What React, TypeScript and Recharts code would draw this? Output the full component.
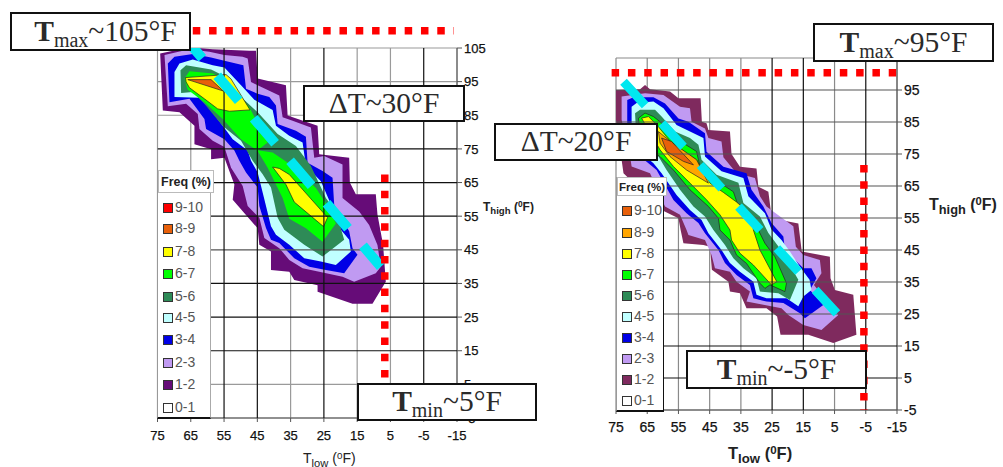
import { ScatterChart, Scatter, XAxis, YAxis, CartesianGrid, ReferenceLine, Polygon } from 'recharts';

type Pt = [number, number];

// outlines as [Tlow, Thigh] in deg F
const leftBand12: Pt[] = [[74.2,103.4],[65.4,105.2],[58.4,104.6],[47.4,104.2],[45.4,104.2],[44.9,95.9],[36.4,93.9],[35.9,84.9],[26.9,81.9],[26.4,73.4],[17.4,72.4],[17.2,65],[15.4,61.5],[9.4,61.5],[8.9,55.5],[7.2,46.4],[6.4,35.5],[10.4,29],[16.4,29],[26.9,32.5],[26.9,34.5],[33.9,36],[35.4,38.5],[40.9,39],[40.9,44.5],[44.4,46.5],[44.9,51.4],[52.4,59.9],[51.9,64.4],[54.9,72.4],[58.9,71.9],[58.9,74.9],[63.9,76.4],[63.9,81.9],[68.4,85.9],[73.4,86.4]];
const leftBand23: Pt[] = [[72.9,102.9],[65.4,104.6],[59.4,103.9],[54.9,102.9],[49.4,102.4],[47.9,101.9],[46.9,94.9],[44.9,93.9],[38.4,90.9],[37.4,84.4],[34.4,83.4],[28.9,81.4],[27.9,72.4],[24.9,72.9],[19.4,70.4],[19.4,60.4],[14.4,56.4],[11.4,52.4],[8.9,46.4],[7.9,40],[9.4,38],[15.9,35.5],[19.4,37],[26.4,38.5],[31.4,39.5],[35.4,42],[38.4,45.5],[42.9,48.5],[44.4,54.5],[47.9,58],[49.4,64],[52.9,69.4],[54.9,75.6],[58.4,77.4],[62.4,80.9],[62.9,85.4],[66.4,88.4],[71.9,87.7]];
const leftBand34: Pt[] = [[71.9,100.4],[69.9,102.4],[64.4,103.2],[58.9,102.2],[54.9,101.2],[49.2,99.9],[48.4,92.9],[44.9,91.4],[41.4,90.4],[39.4,87.9],[38.9,82.4],[33.4,80.4],[30.4,78.6],[29.9,70.9],[25.4,68.4],[22.4,66.4],[21.9,58.4],[17.4,50.5],[16.4,45.5],[14.9,43.5],[18.9,38],[24.4,39],[29.4,40],[33.9,42.5],[38.4,47],[40.9,48],[42.4,51.5],[44.4,58],[44.9,63.5],[48.4,68],[50.4,71.5],[51.9,74.5],[54.9,77.9],[60.4,80.9],[60.9,83.9],[65.4,89.9],[71.4,88.9]];
const leftBand45: Pt[] = [[69.9,97.9],[68.4,100.4],[64.4,101.6],[58.4,99.9],[54.9,99.2],[49.9,93.9],[45.9,89.6],[40.4,86.6],[39.4,81.9],[35.4,78.9],[31.4,76.9],[30.4,69.9],[25.9,65.4],[22.4,57.4],[19.9,51],[17.4,48],[16.9,44.5],[21.4,40.5],[25.9,41.5],[30.9,42.5],[35.4,46.5],[39.4,49.5],[40.9,52],[42.9,60],[44.9,68],[46.9,71.5],[47.9,74.5],[52.4,77.9],[55.4,81.9],[58.9,86.4],[62.4,90.2],[69.9,90.4]];
const leftBand56: Pt[] = [[68.1,98.4],[66.4,99.9],[58.9,98.6],[55.4,96.9],[50.4,90.9],[44.9,85.9],[38.9,79.4],[33.4,75.9],[28.9,69.9],[24.4,60.4],[21.4,56.4],[18.9,48],[25.4,43],[30.9,46.5],[36.9,51],[38.9,54.5],[40.9,63.5],[43.4,67.5],[46.4,71.5],[49.9,77.4],[55.4,81.8],[60.9,88.4],[64.4,91.9],[67.9,91.6]];
const leftBand67: Pt[] = [[66.9,95.9],[65.4,98.1],[58.4,97.4],[54.4,95.4],[47.4,87.4],[41.9,76.9],[44.9,74.6],[40.4,73.9],[34.4,69.9],[27.4,63.4],[23.4,57.3],[21.4,52.8],[25.4,47.4],[30.4,51.4],[35.4,54.2],[37.4,60.4],[39.4,64.4],[41.9,69.4],[44.9,74.4],[49.9,77.9],[55.4,83.9],[60.9,88.9],[65.9,92.6]];
const leftBand78Upper: Pt[] = [[66.6,96.2],[54.4,97.1],[52.9,95.8],[47.2,86.6],[53.4,86.2],[56.9,86.9],[60.9,89.9],[65.4,93.2],[66.4,94.9]];
const leftBand78Lower: Pt[] = [[40.4,69.6],[38.4,69.2],[35.4,67.4],[23.9,54.6],[25.1,51.9],[33.9,59.2],[36.4,64.4]];
const leftBand89: Pt[] = [[65.9,95.6],[58.9,95.6],[55.2,92.2]];

const rightBand12: Pt[] = [[75,95],[67.3,95.2],[65.7,96.6],[64.1,95.2],[57.7,94.5],[55,92.4],[47.9,92.4],[47.5,85.1],[46,84.6],[45.4,82.5],[38.5,82],[38,75],[35.3,71],[30,70.5],[29.4,64.8],[26.2,63.2],[25.1,54.9],[16.6,53.3],[15.5,44.5],[6.5,42.9],[6.3,36.2],[4.9,32.5],[-1,31],[-2,18.5],[5.4,15.9],[13.4,18.5],[22.3,18.5],[23.4,24.2],[26.8,26.8],[33.2,26.8],[35.3,31.5],[38.5,32],[39,35.1],[44.3,38.8],[44.9,46],[47,46.6],[53.4,47.1],[54.3,51.25],[55,54.9],[60.4,57.5],[72.6,69],[73.2,73.1],[75,85.6]];
const rightBand23: Pt[] = [[73.2,93],[65.7,94],[59.8,93.4],[54.5,89.8],[51.3,89.3],[50.8,85.1],[46.5,83],[45.4,80],[41.2,78.9],[40.6,74],[36.4,69],[30.5,67.5],[28.9,61.8],[26.8,58.6],[18.2,52.4],[17.4,46],[15,43.4],[9.7,41.9],[9.2,37.7],[11.6,34.1],[8.6,30.4],[3.8,24.7],[9.2,20],[15,21.6],[19.8,24.7],[22,26.8],[27.8,27.9],[33.2,28.9],[32.1,32],[36.4,35.1],[38.5,38.2],[43.3,39.3],[44.4,43.4],[46.5,48.1],[51.8,49.7],[52.4,51.25],[54.5,56],[59.3,58.6],[64.1,69],[70,71.1],[70.5,74.3],[73.2,85.7]];
const rightBand34: Pt[] = [[71.4,91.9],[69.4,92.7],[63,92.7],[59.3,90.8],[55,86.1],[51.8,85.1],[46.5,81.5],[46,75.7],[40.6,71],[33.2,69],[31.6,63.8],[27.8,58.6],[25.2,53.4],[21.4,49.2],[20.9,45],[15,39.3],[12.4,39.3],[10.8,36.2],[12.9,32.5],[8.6,27.8],[14.5,23.7],[16.1,25.2],[21.4,28.4],[26.8,28.9],[31,29.9],[32.1,34.1],[36.4,37.2],[40.1,40.9],[42.2,45],[46.5,50.2],[48.6,53.4],[52.4,56.5],[56.6,60.6],[62,70],[65.2,72.6],[71.4,77.3]];
const rightBand45: Pt[] = [[70,89.8],[68.4,90.9],[63,91.4],[59.8,89.3],[55.6,84.1],[51.3,82],[47,80],[46.5,74.2],[41.2,69.6],[34.2,67.5],[32.6,61.8],[27.3,56.5],[25.2,51.4],[22,48.1],[19.3,44.5],[16.1,39.8],[13,35.7],[12.4,32.5],[15,30.5],[16.6,27.4],[20.4,29.9],[26.8,29.9],[30,31],[31,35.1],[35.3,38.2],[38.5,40.9],[41.2,45],[45.4,50.2],[47.6,54.4],[51.3,57.5],[55.6,62.2],[60.4,69],[63,72.1],[70,78]];
const rightBand56: Pt[] = [[68.9,87.7],[67.3,88.8],[62.5,88.8],[60.4,86.7],[56.1,82],[51.3,80],[48.6,77.9],[47.6,73.2],[42.8,68.5],[35.8,66],[34.2,59.7],[28.9,55.5],[26.2,50.3],[22.5,45.5],[16.6,35.7],[19.3,29.4],[23,31.5],[28.9,32],[30,36.2],[34.2,39.3],[37.4,42.4],[40.1,46.6],[43.8,51.25],[46.5,55.5],[50.2,58.6],[54.5,63.8],[58.8,70],[61.4,74.2],[68.4,78.4]];
const rightBand67: Pt[] = [[67.8,86.2],[65.7,87.8],[63,86.7],[60.9,85.1],[56.1,80],[49.2,75.8],[48.1,71],[43.3,67],[37.4,63.2],[35.8,58.6],[30.5,53.4],[27.3,47.1],[24.1,42.9],[20.4,34.6],[20.9,32],[25.7,34.1],[27.3,33],[28.9,34.6],[33.2,40.8],[36.4,43.4],[38.5,48.1],[41.7,51.25],[42.2,54.9],[45.4,58.6],[51.3,63.8],[56.6,70],[60.9,74.2],[67,78]];
const rightBand78: Pt[] = [[66.8,86.2],[64.6,86.7],[61.4,83.5],[57.2,78.4],[49.2,73.2],[44.9,65.9],[40.6,63],[36.4,60],[31.6,55.9],[31,51.25],[28.9,45],[23.5,35.1],[25.2,34.1],[31,40.3],[35.3,44],[38,48.1],[38.5,51.25],[41.7,56],[46,60.7],[51.3,65.9],[56.6,71.1],[60.9,76.3]];
const rightBand89: Pt[] = [[61.4,82],[58.2,79.4],[49.2,73.2],[45.4,65.9],[52.4,70],[57.7,74.2],[60.9,78.4]];
const rightBand910: Pt[] = [[60.4,80],[57.2,78.9],[50.2,71.6],[53.4,72.7],[58.8,75.8]];

const xTicks = [75, 65, 55, 45, 35, 25, 15, 5, -5, -15];
const leftYTicks = [105, 95, 85, 75, 65, 55, 45, 35, 25, 15, 5, -5];
const rightYTicks = [95, 85, 75, 65, 55, 45, 35, 25, 15, 5, -5];
const freqLabels = ['9-10', '8-9', '7-8', '6-7', '5-6', '4-5', '3-4', '2-3', '1-2', '0-1'];
const leftFreqColors = ['#ff0000', '#e8600a', '#ffff00', '#00ff00', '#2e8b57', '#c0ffff', '#0000e6', '#c09af2', '#660c78', '#ffffff'];
const rightFreqColors = ['#e8600a', '#ffa500', '#ffff00', '#00ff00', '#2e8b57', '#c0ffff', '#0000e6', '#c09af2', '#7f2a5e', '#ffffff'];

const leftBands = [
  { pts: leftBand12, fill: '#660c78' },
  { pts: leftBand23, fill: '#c09af2' },
  { pts: leftBand34, fill: '#0000e6' },
  { pts: leftBand45, fill: '#c0ffff' },
  { pts: leftBand56, fill: '#2e8b57' },
  { pts: leftBand67, fill: '#00ff00' },
  { pts: leftBand78Upper, fill: '#ffff00', edge: true },
  { pts: leftBand78Lower, fill: '#ffff00', edge: true },
  { pts: leftBand89, fill: '#e8600a', edge: true },
];
const rightBands = [
  { pts: rightBand12, fill: '#7f2a5e' },
  { pts: rightBand23, fill: '#c09af2' },
  { pts: rightBand34, fill: '#0000e6' },
  { pts: rightBand45, fill: '#c0ffff' },
  { pts: rightBand56, fill: '#2e8b57' },
  { pts: rightBand67, fill: '#00ff00', edge: true },
  { pts: rightBand78, fill: '#ffff00', edge: true },
  { pts: rightBand89, fill: '#ffa500', edge: true },
  { pts: rightBand910, fill: '#e8600a', edge: true },
];

const SANS = '"Liberation Sans", Arial, sans-serif';
const SERIF = '"Liberation Serif", "Times New Roman", serif';

const noDot = () => <g />;

function toRows(a: Pt, b: Pt) {
  return [{ x: a[0], y: a[1] }, { x: b[0], y: b[1] }];
}

function Panel({ plot, bands, yTicks, greyX, blackX, greyY, midY, blackY, cyan, cyanDash, cyanWidth, redH, redV, tickSize }: any) {
  const width = plot.right + 60;
  const height = 467;
  return (
    <div style={{ position: 'absolute', left: 0, top: 0 }}>
      <ScatterChart
        width={width}
        height={height}
        margin={{ left: plot.left, top: plot.top, right: 10, bottom: height - plot.bottom - 30 }}
      >
        <CartesianGrid
          stroke={plot.gridColor}
          strokeWidth={1.2}
          verticalValues={greyX}
          horizontalValues={greyY}
          syncWithTicks={false}
        />
        <XAxis
          type="number"
          dataKey="x"
          reversed
          domain={[-15, 75]}
          ticks={xTicks}
          interval={0}
          allowDataOverflow
          height={30}
          tickSize={4}
          tickMargin={plot.xTickGap}
          stroke="#555"
          tick={{ fontSize: tickSize, fontFamily: SANS, fill: '#111', stroke: '#111', strokeWidth: 0.25 }}
        />
        <YAxis
          type="number"
          dataKey="y"
          orientation="right"
          domain={[-5, 105]}
          ticks={yTicks}
          interval={0}
          allowDataOverflow
          width={50}
          tickSize={5}
          tickMargin={2}
          stroke="#555"
          tick={{ fontSize: tickSize, fontFamily: SANS, fill: '#111', stroke: '#111', strokeWidth: 0.25 }}
        />
        {/* red line above the plot area stays a reference line, it would be clipped as a series */}
        <ReferenceLine
          segment={toRows(redH[0], redH[1])}
          ifOverflow="visible"
          stroke="#ff0000"
          strokeWidth={7.5}
          strokeDasharray="7.5 8.8"
        />
        {bands.map((b: any, i: number) => (
          <Scatter
            key={i}
            data={b.pts.map((p: Pt) => ({ x: p[0], y: p[1] }))}
            isAnimationActive={false}
            shape={noDot}
            line={(p: any) => (
              <Polygon
                points={p.points}
                fill={b.fill}
                stroke={b.edge ? '#222' : 'none'}
                strokeWidth={b.edge ? 0.7 : 0}
              />
            )}
          />
        ))}
        {midY.map((v: number) => (
          <Scatter
            key={'my' + v}
            data={toRows([75, v], [-15, v])}
            isAnimationActive={false}
            shape={noDot}
            line={{ stroke: '#555', strokeWidth: 1.2 }}
          />
        ))}
        {blackX.map((v: number) => (
          <Scatter
            key={'bx' + v}
            data={toRows([v, -5], [v, 105])}
            isAnimationActive={false}
            shape={noDot}
            line={{ stroke: '#111', strokeWidth: 1.2 }}
          />
        ))}
        {blackY.map((v: number) => (
          <Scatter
            key={'by' + v}
            data={toRows([75, v], [-15, v])}
            isAnimationActive={false}
            shape={noDot}
            line={{ stroke: '#111', strokeWidth: 1.2 }}
          />
        ))}
        <Scatter
          data={toRows(cyan[0], cyan[1])}
          isAnimationActive={false}
          shape={noDot}
          line={{ stroke: '#00e8f0', strokeWidth: cyanWidth, strokeDasharray: cyanDash }}
        />
        <Scatter
          data={toRows(redV[0], redV[1])}
          isAnimationActive={false}
          shape={noDot}
          line={{ stroke: '#ff0000', strokeWidth: 7.5, strokeDasharray: '7.5 8.8' }}
        />
      </ScatterChart>
    </div>
  );
}

function FreqLegend({ left, top, width, bottom, rows, colors, border, titleWidth, titleHeight, titleSize }: any) {
  return (
    <div
      style={{
        position: 'absolute',
        left,
        top,
        width,
        height: bottom - top,
        background: '#fff',
        borderLeft: '1px solid #999',
        borderRight: '1px solid ' + border,
        borderBottom: '2px solid #111',
        fontFamily: SANS,
      }}
    >
      <div
        style={{
          position: 'absolute',
          left: 0,
          top: 0,
          width: titleWidth,
          height: titleHeight,
          boxSizing: 'border-box',
          border: '1px solid #bbb',
          background: '#fff',
          fontSize: titleSize,
          fontWeight: 700,
          lineHeight: titleHeight + 'px',
          textAlign: 'center',
          color: '#222',
          whiteSpace: 'nowrap',
        }}
      >
        Freq (%)
      </div>
      {freqLabels.map((label, i) => (
        <div key={label}>
          <div
            style={{
              position: 'absolute',
              left: 5,
              top: rows[i] - top - 4,
              width: 8,
              height: 8,
              background: colors[i],
              border: '1px solid #333',
            }}
          />
          <div
            style={{
              position: 'absolute',
              left: 17,
              top: rows[i] - top - 8,
              fontSize: 14,
              lineHeight: '16px',
              color: '#555',
            }}
          >
            {label}
          </div>
        </div>
      ))}
    </div>
  );
}

function NoteBox({ x0, y0, x1, y1, lead, sub, rest, pad }: any) {
  return (
    <div
      style={{
        position: 'absolute',
        left: x0,
        top: y0,
        width: x1 - x0,
        height: y1 - y0,
        boxSizing: 'border-box',
        border: '2.5px solid #111',
        paddingLeft: pad || 0,
        background: '#fff',
        fontFamily: SERIF,
        fontSize: 29.5,
        color: '#2a2a2a',
        textAlign: 'center',
        whiteSpace: 'nowrap',
        lineHeight: y1 - y0 - 5 + 'px',
      }}
    >
      <span style={{ fontWeight: lead === 'T' ? 700 : 400 }}>{lead}</span>
      {sub ? <span style={{ fontSize: 20, position: 'relative', top: 6 }}>{sub}</span> : null}
      {rest}
    </div>
  );
}

function AxisText({ left, top, size, weight, name, sub }: any) {
  return (
    <div
      style={{
        position: 'absolute',
        left,
        top,
        fontFamily: SANS,
        fontSize: size,
        fontWeight: weight,
        color: '#222',
        whiteSpace: 'nowrap',
        lineHeight: size + 4 + 'px',
      }}
    >
      {name}
      <span style={{ fontSize: size * 0.8, position: 'relative', top: size * 0.25 }}>{sub}</span>
      {' ('}
      <span style={{ fontSize: size * 0.7, position: 'relative', top: -size * 0.3 }}>0</span>
      {'F)'}
    </div>
  );
}

export default function App() {
  return (
    <div style={{ position: 'fixed', left: 0, top: 0, width: 1003, height: 467, overflow: 'hidden', background: '#fff' }}>
      <Panel
        plot={{ left: 157.5, top: 48, right: 457, bottom: 418, gridColor: '#9a9a9a', xTickGap: 9 }}
        bands={leftBands}
        yTicks={leftYTicks}
        greyX={[75, 65, 35, 15, 5, -15]}
        blackX={[55, 45, 25, -5]}
        greyY={[105, 95, 85, 5, -5]}
        midY={[45]}
        blackY={[75, 65, 55, 35, 25, 15]}
        cyan={[[68, 109.4], [7.9, 40]]}
        cyanDash="33 23"
        cyanWidth={10}
        redH={[[64.4, 110.1], [-14.1, 110.1]]}
        redV={[[6.7, 67.4], [6.7, 6.5]]}
        tickSize={13}
      />
      <Panel
        plot={{ left: 616, top: 58, right: 897, bottom: 410, gridColor: '#8a8a8a', xTickGap: 8 }}
        bands={rightBands}
        yTicks={rightYTicks}
        greyX={[75, 65, 55, 45, 35, 5, -15]}
        blackX={[25, 15, -5]}
        greyY={[105, -5]}
        midY={[95, 85, 75, 65, 55, 45, 35, 25]}
        blackY={[15, 5]}
        cyan={[[72.6, 97.6], [3.8, 24.7]]}
        cyanDash="32 24.6"
        cyanWidth={9}
        redH={[[76.4, 100.4], [-17.5, 100.4]]}
        redV={[[-4.4, 71.6], [-4.4, -5]]}
        tickSize={14}
      />

      <FreqLegend
        left={157}
        top={170}
        width={52}
        bottom={417}
        rows={[207, 228, 251, 273, 296, 317, 339, 362, 384, 407]}
        colors={leftFreqColors}
        border="#aaa"
        titleWidth={56}
        titleHeight={23}
        titleSize={12.5}
      />
      <FreqLegend
        left={616}
        top={177}
        width={46}
        bottom={410}
        rows={[210, 232, 253, 274, 295, 316, 337, 358, 379, 400]}
        colors={rightFreqColors}
        border="#111"
        titleWidth={50}
        titleHeight={19}
        titleSize={11.5}
      />

      <AxisText left={303} top={449} size={14} weight={400} name="T" sub="low" />
      <AxisText left={483} top={199} size={12} weight={700} name="T" sub="high" />
      <AxisText left={728} top={443} size={16.5} weight={700} name="T" sub="low" />
      <AxisText left={929} top={195} size={16} weight={700} name="T" sub="high" />

      <NoteBox x0={10} y0={12} x1={191} y1={51} lead="T" sub="max" rest="~105°F" pad={10} />
      <NoteBox x0={303} y0={85} x1={465} y1={122} lead="ΔT~30°F" />
      <NoteBox x0={357} y0={383} x1={537} y1={421} lead="T" sub="min" rest="~5°F" />
      <NoteBox x0={813} y0={23} x1={994} y1={62} lead="T" sub="max" rest="~95°F" />
      <NoteBox x0={494} y0={123} x1={658} y1={161} lead="ΔT~20°F" />
      <NoteBox x0={686} y0={350} x1={867} y1={389} lead="T" sub="min" rest="~-5°F" />
    </div>
  );
}
